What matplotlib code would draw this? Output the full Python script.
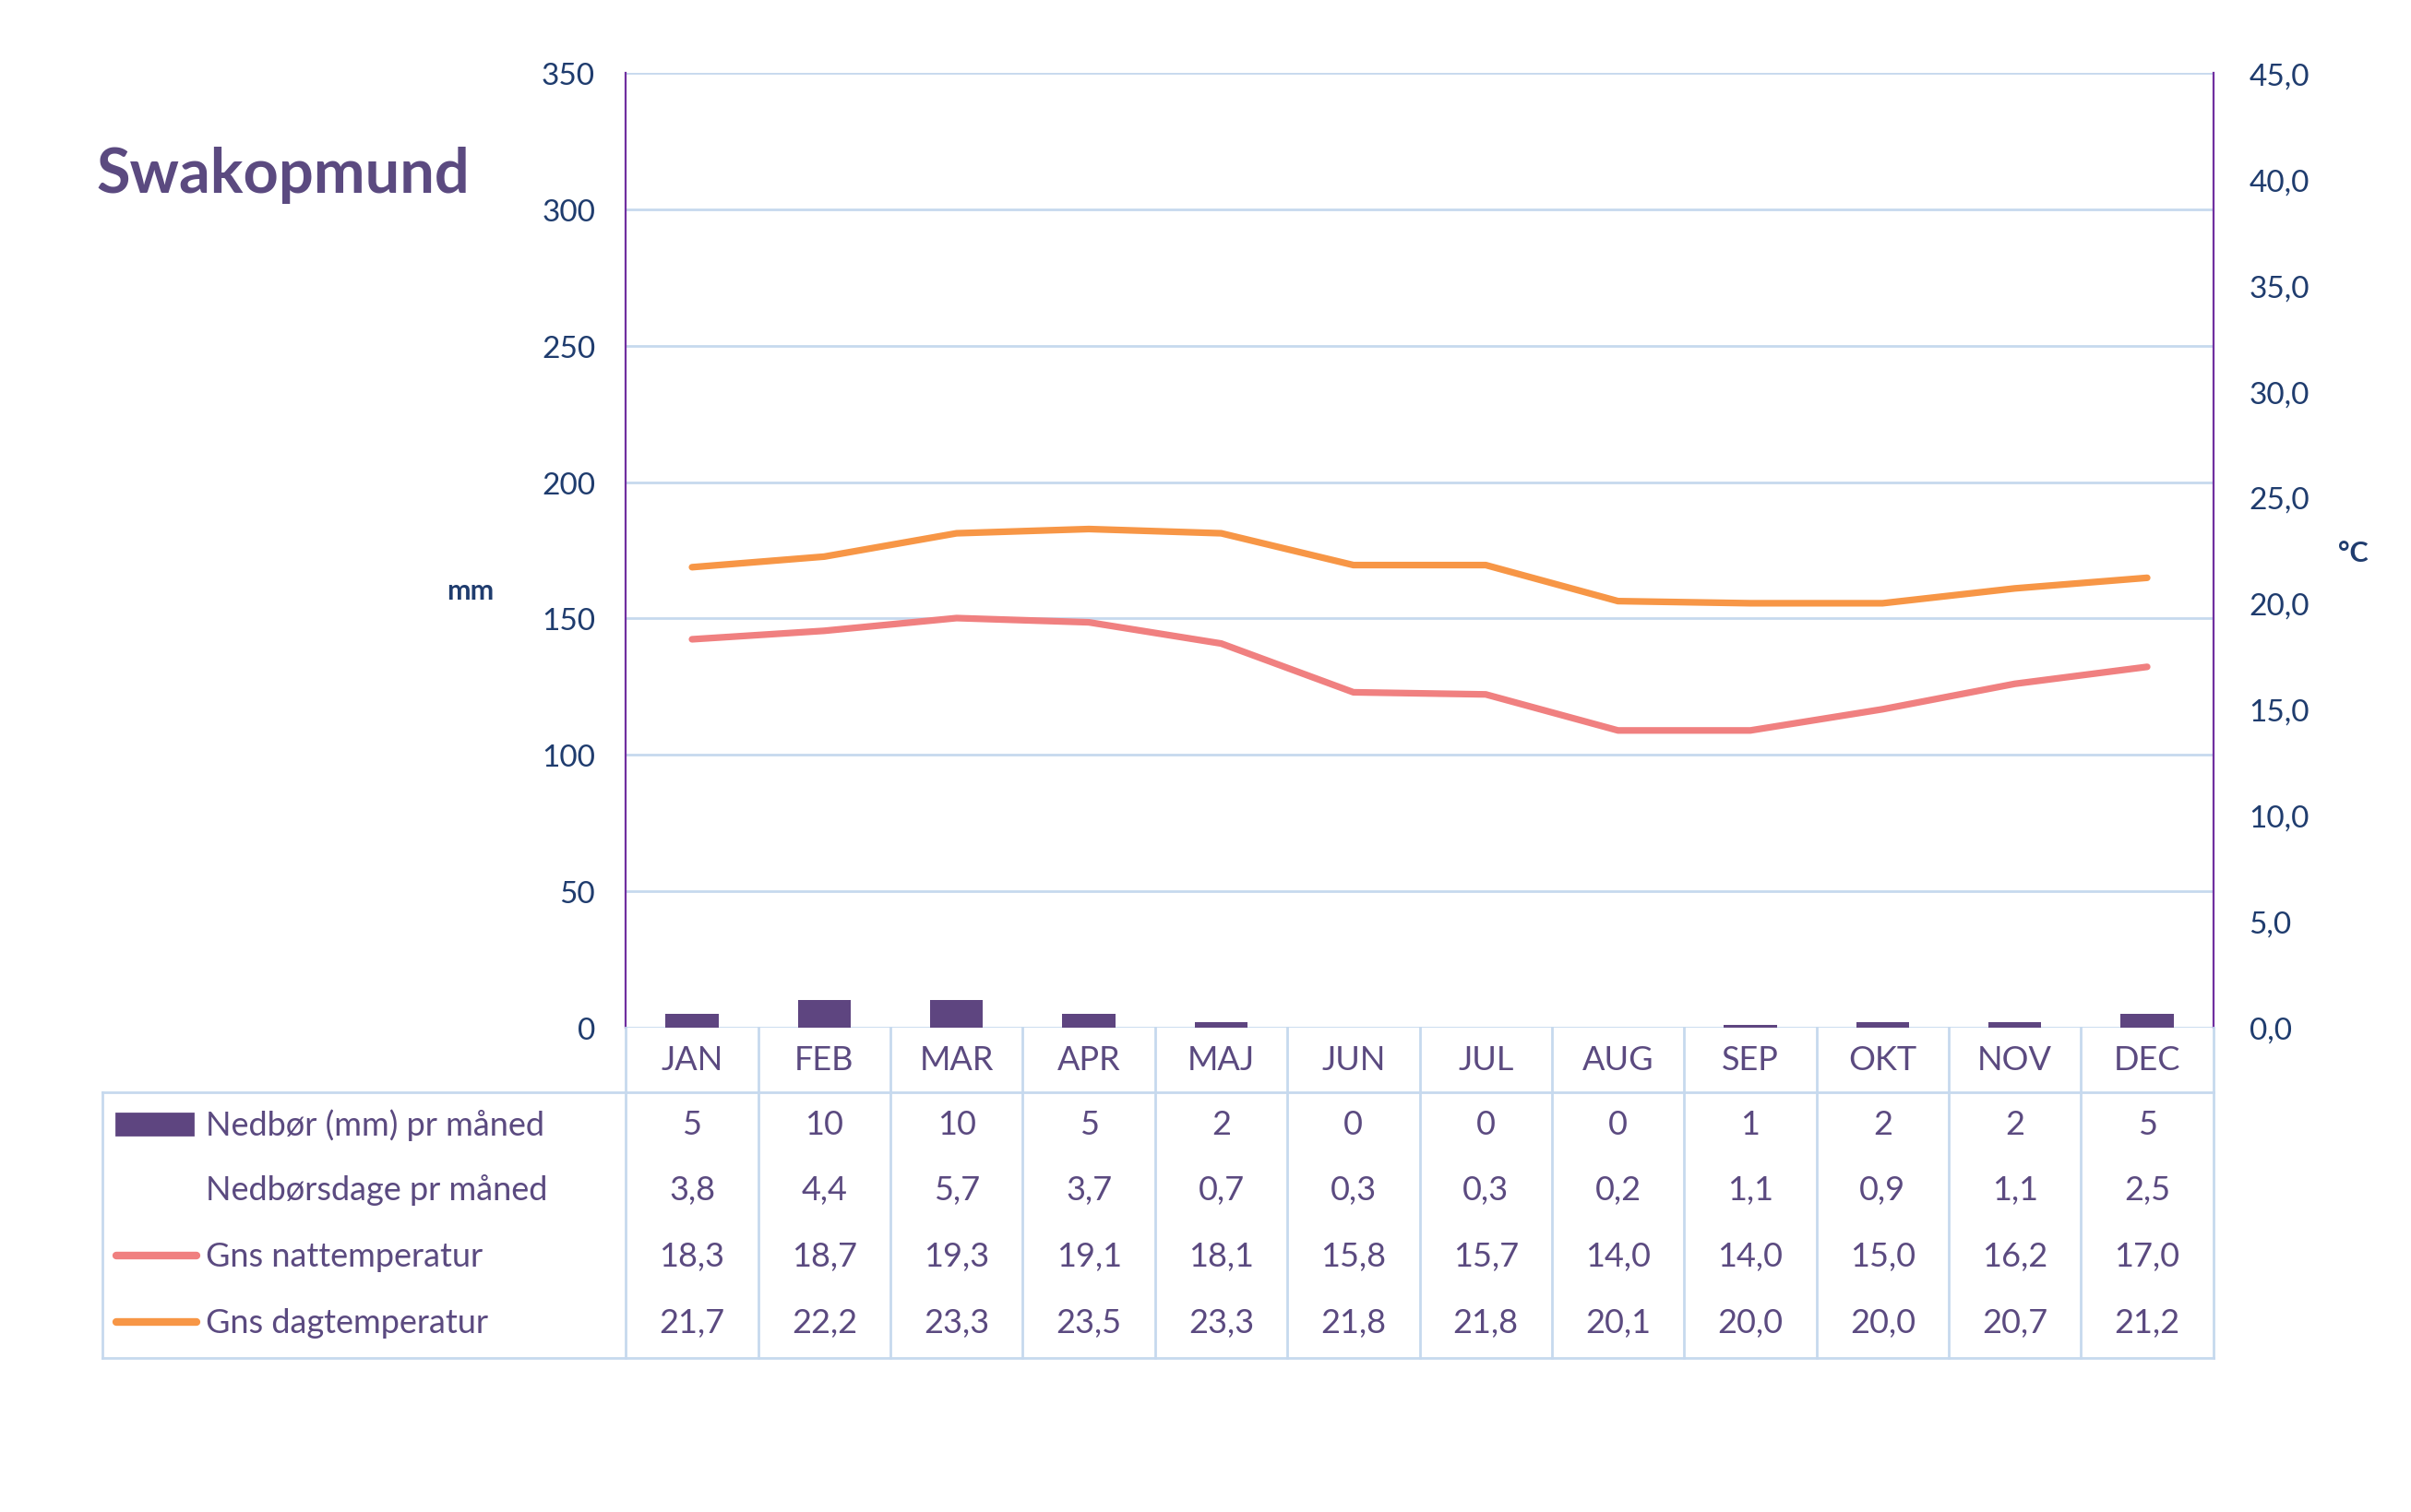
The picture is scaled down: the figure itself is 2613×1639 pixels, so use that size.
import matplotlib.pyplot as plt
from matplotlib.lines import Line2D
from matplotlib.patches import Rectangle

plt.rcParams["font.family"] = ["Lato", "DejaVu Sans"]

months = ["JAN", "FEB", "MAR", "APR", "MAJ", "JUN", "JUL", "AUG", "SEP", "OKT", "NOV", "DEC"]
rain_mm = [5, 10, 10, 5, 2, 0, 0, 0, 1, 2, 2, 5]
rain_days = [3.8, 4.4, 5.7, 3.7, 0.7, 0.3, 0.3, 0.2, 1.1, 0.9, 1.1, 2.5]
night_temp = [18.3, 18.7, 19.3, 19.1, 18.1, 15.8, 15.7, 14.0, 14.0, 15.0, 16.2, 17.0]
day_temp = [21.7, 22.2, 23.3, 23.5, 23.3, 21.8, 21.8, 20.1, 20.0, 20.0, 20.7, 21.2]
row_labels = ["Nedbør (mm) pr måned", "Nedbørsdage pr måned", "Gns nattemperatur", "Gns dagtemperatur"]

TICK = "#1f3c6e"
TXT = "#5b4a80"
SPINE = "#7030a0"
GRID = "#c6d9ee"
BAR = "#5e4580"
NIGHT = "#f08080"
DAY = "#f79646"


def fmt(v):
    return f"{v:.1f}".replace(".", ",")


fig = plt.figure(figsize=(13.065, 8.2), dpi=200)
L, R, B, T = 0.2596, 0.918, 0.3204, 0.951
ax = fig.add_axes([L, B, R - L, T - B])
ax2 = ax.twinx()

x = range(12)
ax.bar(x, rain_mm, width=0.4, color=BAR, linewidth=0, zorder=3)
ax2.plot(x, night_temp, color=NIGHT, lw=2.6, solid_capstyle="round", solid_joinstyle="round", zorder=4)
ax2.plot(x, day_temp, color=DAY, lw=2.6, solid_capstyle="round", solid_joinstyle="round", zorder=4)

ax.set_xlim(-0.5, 11.5)
ax.set_ylim(0, 350)
ax.set_yticks(range(0, 351, 50))
ax2.set_ylim(0, 45)
ax2.set_yticks(range(0, 46, 5))
ax2.set_yticklabels([fmt(v) for v in range(0, 46, 5)])
ax.yaxis.grid(True, color=GRID, lw=1)
ax.set_axisbelow(True)
ax.set_xticks([])
for a in (ax, ax2):
    a.tick_params(axis="y", length=0, labelsize=12, labelcolor=TICK, pad=12)
    for s in ("top", "bottom"):
        a.spines[s].set_visible(False)
ax.spines["left"].set_color(SPINE)
ax.spines["right"].set_visible(False)
ax2.spines["left"].set_visible(False)
ax2.spines["right"].set_color(SPINE)
ax2.tick_params(axis="y", pad=14)

fig.text(0.195, 0.609, "mm", color=TICK, fontsize=11, fontweight="bold", ha="center", va="center")
fig.text(0.976, 0.634, "°C", color=TICK, fontsize=11, fontweight="bold", ha="center", va="center")
fig.text(0.040, 0.884, "Swakopmund", color=TXT, fontsize=24, fontweight="bold", ha="left", va="center")

# table
cw = (R - L) / 12
tab_left = 66 / 1560
y_hdr_top, y_hdr_bot = B, 1 - 708 / 980
y_bot = 1 - 880 / 980
row_y = [1 - v / 980 for v in (729, 771, 814, 857)]
lc = "#c6d9ee"
for i in range(13):
    xx = L + i * cw
    fig.add_artist(Line2D([xx, xx], [y_bot, y_hdr_top], color=lc, lw=1))
fig.add_artist(Line2D([tab_left, tab_left], [y_bot, y_hdr_bot], color=lc, lw=1))
fig.add_artist(Line2D([tab_left, R], [y_hdr_bot, y_hdr_bot], color=lc, lw=1))
fig.add_artist(Line2D([tab_left, R], [y_bot, y_bot], color=lc, lw=1))
for i, m in enumerate(months):
    xc = L + (i + 0.5) * cw
    fig.text(xc, (y_hdr_top + y_hdr_bot) / 2, m, ha="center", va="center", fontsize=13, color=TXT)
rows = [[str(v) for v in rain_mm], [fmt(v) for v in rain_days],
        [fmt(v) for v in night_temp], [fmt(v) for v in day_temp]]
for r, (lab, vals) in enumerate(zip(row_labels, rows)):
    yy = row_y[r]
    fig.text(133 / 1560, yy, lab, ha="left", va="center", fontsize=13, color=TXT)
    for i, v in enumerate(vals):
        fig.text(L + (i + 0.5) * cw, yy, v, ha="center", va="center", fontsize=13, color=TXT)
# legend keys
fig.add_artist(Rectangle((75 / 1560, row_y[0] - 0.007), 50 / 1560, 0.014, color=BAR))
fig.add_artist(Line2D([75 / 1560, 127 / 1560], [row_y[2]] * 2, color=NIGHT, lw=3, solid_capstyle="round"))
fig.add_artist(Line2D([75 / 1560, 127 / 1560], [row_y[3]] * 2, color=DAY, lw=3, solid_capstyle="round"))

fig.savefig("out.png", dpi=200)
